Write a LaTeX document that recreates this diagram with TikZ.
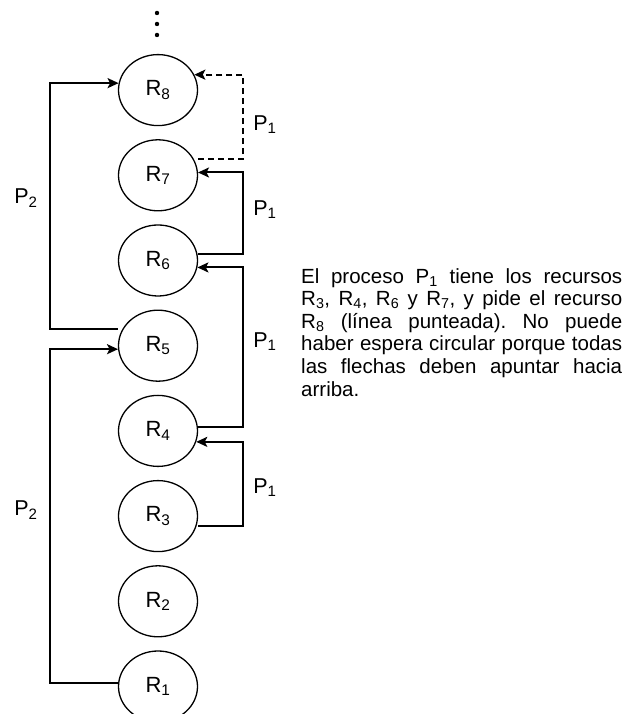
\documentclass[tikz,border=0pt]{standalone}
\usepackage{fontspec}
\setmainfont{Liberation Sans}
\usetikzlibrary{arrows.meta, positioning, shapes.geometric}

\tikzset{
  recurso/.style={ellipse, draw, line width=1.3pt, minimum width=79pt,
    minimum height=71pt, inner sep=0pt, font=\fontsize{22}{24}\selectfont},
  flecha/.style={line width=2pt, -{Stealth[length=11pt,width=10pt,inset=2.5pt]}},
  proceso/.style={font=\fontsize{21.5}{24}\selectfont}
}

\begin{document}
\frenchspacing
\begin{tikzpicture}[x=1pt,y=1pt]
  \useasboundingbox (0,0) rectangle (628,714);
  % Resources, R1 at the bottom
  \foreach \i in {1,...,8}
    \node[recurso] (r\i) at (158,{27.5+85.2*(\i-1)}) {R\textsubscript{\i}};
  % Dots above R8
  \foreach \y in {13,24,35}
    \fill (157,{714-\y}) circle (2.2pt);
  % Rails
  \coordinate (rielizq) at (50,0);
  \coordinate (rielder) at (243,0);
  % P2, left side
  \draw[flecha] ([yshift=16.5pt]r5.west) -| (rielizq |- r8.170) -- (r8.170);
  \draw[flecha] ([yshift=3.5pt]r1.west) -| (rielizq |- r5.185) -- (r5.185);
  % P1, right side (request is dashed)
  \draw[flecha, dash pattern=on 6pt off 4pt] ([yshift=16pt]r7.east) -| (rielder |- r8.23) -- (r8.23);
  \draw[flecha] ([yshift=6.5pt]r6.east) -| (rielder |- r7.4) -- (r7.4);
  \draw[flecha] ([yshift=4pt]r4.east) -| (rielder |- r6.350) -- (r6.350);
  \draw[flecha] ([yshift=-10pt]r3.east) -| (rielder |- r4.344) -- (r4.344);
  % Process labels
  \node[proceso] (p2a) at (26,{714-198}) {P\textsubscript{2}};
  \node[proceso] (p2b) at (26,{714-510}) {P\textsubscript{2}};
  \node[proceso] (p1a) at (265,{714-125}) {P\textsubscript{1}};
  \node[proceso] (p1b) at (265,{714-210}) {P\textsubscript{1}};
  \node[proceso] (p1c) at (265,{714-342}) {P\textsubscript{1}};
  \node[proceso] (p1d) at (265,{714-488}) {P\textsubscript{1}};
  % Note
  \node[anchor=north west, inner sep=0pt, text width=321pt, align=justify,
    font=\fontsize{20.5}{22.6}\selectfont] (nota) at (301,{714-268})
    {El proceso P\textsubscript{1} tiene los recursos\linebreak
     R\textsubscript{3}, R\textsubscript{4}, R\textsubscript{6} y R\textsubscript{7}, y pide el recurso\linebreak
     R\textsubscript{8} (línea punteada). No puede\linebreak
     haber espera circular porque todas\linebreak
     las flechas deben apuntar hacia\linebreak
     arriba.};
\end{tikzpicture}
\end{document}
